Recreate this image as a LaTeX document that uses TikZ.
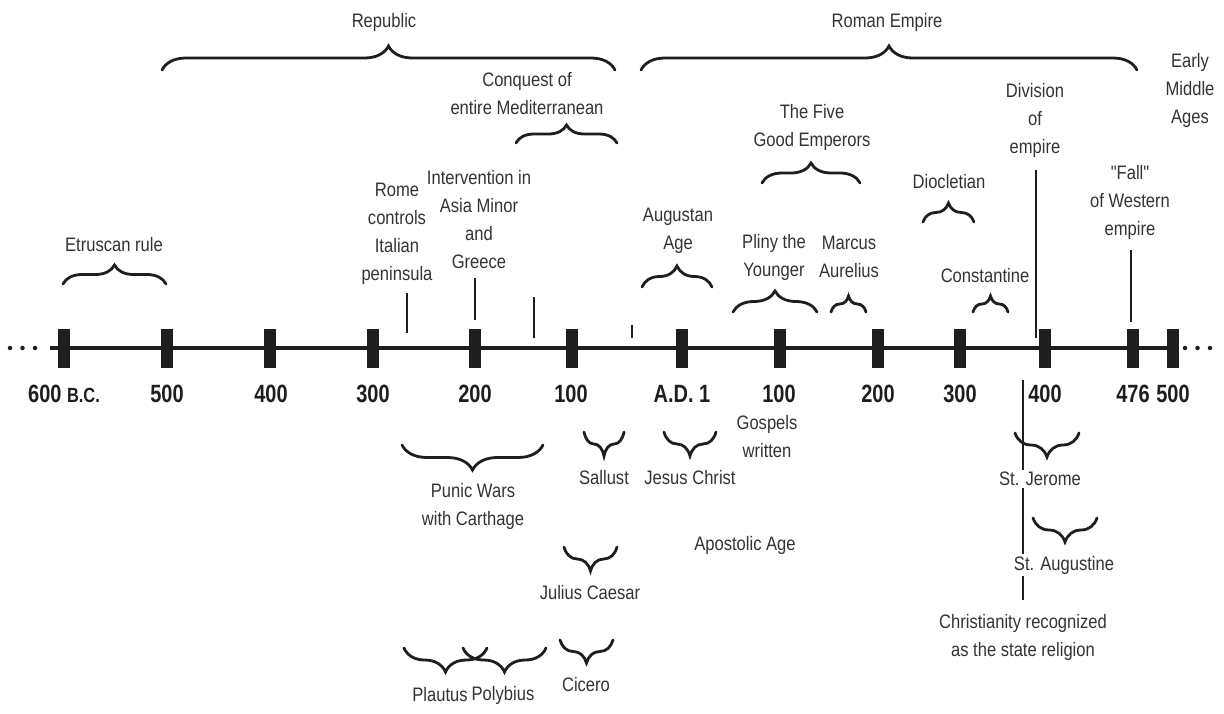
\documentclass[tikz,border=0pt]{standalone}
\usepackage{fontspec}
\setmainfont{Liberation Sans}[FakeStretch=0.85]
\newfontfamily\plainfont{Liberation Sans}[FakeStretch=0.85]
\newfontfamily\axfont{Liberation Sans Bold}[FakeStretch=0.8]
\usetikzlibrary{decorations.pathreplacing}
\definecolor{txt}{HTML}{333333}
\definecolor{ink}{HTML}{1E1E1E}
\tikzset{
  lbl/.style={font=\fontsize{19.5}{28}\selectfont, text=txt, align=center, inner sep=0pt},
  axl/.style={font=\axfont\fontsize{25}{28}\selectfont, text=ink, inner sep=0pt},
  tk/.style={fill=ink, minimum width=12pt, minimum height=39pt, inner sep=0pt, draw=none},
  brc/.style={draw=ink, line width=2.8pt, line cap=round, decorate, decoration={brace, amplitude=#1}},
  pinline/.style={draw=ink, line width=1.5pt},
  dotn/.style={circle, fill=ink, minimum size=4.5pt, inner sep=0pt},
}
\begin{document}
\begin{tikzpicture}[x=1pt, y=-1pt]
\useasboundingbox (0,0) rectangle (1224,713);

% ---- axis ----
\node[dotn] (dl1) at (10,348) {};
\node[dotn] (dl2) at (22.5,348) {};
\node[dotn] (dl3) at (35,348) {};
\node[dotn] (dr1) at (1185,348) {};
\node[dotn] (dr2) at (1197.5,348) {};
\node[dotn] (dr3) at (1210,348) {};
\coordinate (axL) at (50,348);
\coordinate (axR) at (1176,348);
\draw[ink, line width=4pt] (axL) -- (axR);
\foreach \n/\x in {t600/63.5, t500/167, t400/270, t300/373, t200/475, t100/572, tad1/682,
                   a100/780, a200/878, a300/960, a400/1045, a476/1133, a500/1173}
  \node[tk] (\n) at (\x,348) {};

\node[axl] (l600) at (64,394) {600 {\fontsize{20.5}{20}\selectfont B.C.}};
\node[axl] (l500) at (167,394) {500};
\node[axl] (l400) at (271,394) {400};
\node[axl] (l300) at (373,394) {300};
\node[axl] (l200) at (475,394) {200};
\node[axl] (l100) at (571,394) {100};
\node[axl] (lad1) at (682,394) {A.D. 1};
\node[axl] (m100) at (779,394) {100};
\node[axl] (m200) at (878,394) {200};
\node[axl] (m300) at (960,394) {300};
\node[axl] (m400) at (1045,394) {400};
\node[axl] (m476) at (1133,394) {476};
\node[axl] (m500) at (1173,394) {500};

% ---- top labels ----
\node[lbl] (repub) at (384,22) {Republic};
\draw[brc=24pt] (162,70) -- (615,70);
\node[lbl] (roman) at (887,22) {Roman Empire};
\draw[brc=24pt] (641,70) -- (1137,70);
\node[lbl] (ema) at (1190,90) {Early\\Middle\\Ages};

\node[lbl] (conq) at (527,94) {Conquest of\\entire Mediterranean};
\draw[brc=18pt] (516,143) -- (617,143);

\node[lbl] (five) at (812,127) {The Five\\Good Emperors};
\draw[brc=20pt] (762,183) -- (860,183);

\node[lbl] (divi) at (1035,120) {Division\\of\\empire};
\coordinate (diviA) at (1036,170);
\coordinate (diviB) at (1036,338);
\draw[pinline] (diviA) -- (diviB);

\node[lbl, font=\plainfont\fontsize{19.5}{28}\selectfont] (fall) at (1130,202) {"Fall"\\of Western\\empire};
\coordinate (fallA) at (1131,250);
\coordinate (fallB) at (1131,322);
\draw[pinline] (fallA) -- (fallB);

\node[lbl] (diocl) at (949,182) {Diocletian};
\draw[brc=19pt] (923,222) -- (974,222);

\node[lbl] (rome) at (397,234) {Rome\\controls\\Italian\\peninsula};
\coordinate (romeA) at (407,293);
\coordinate (romeB) at (407,333);
\draw[pinline] (romeA) -- (romeB);

\node[lbl] (interv) at (479,220) {Intervention in\\Asia Minor\\and\\Greece};
\coordinate (intA) at (475,278);
\coordinate (intB) at (475,320);
\draw[pinline] (intA) -- (intB);

\coordinate (unA) at (534,297);
\coordinate (unB) at (534,338);
\draw[pinline] (unA) -- (unB);
\coordinate (shA) at (632,325);
\coordinate (shB) at (632,338);
\draw[pinline] (shA) -- (shB);

\node[lbl] (aug) at (678,231) {Augustan\\Age};
\draw[brc=21pt] (642,287) -- (712,287);

\node[lbl] (etr) at (114,245) {Etruscan rule};
\draw[brc=19pt] (63,284) -- (166,284);

\node[lbl] (pliny) at (774,257) {Pliny the\\Younger};
\draw[brc=21pt] (733,312) -- (817,312);
\node[lbl] (marcus) at (849,257) {Marcus\\Aurelius};
\draw[brc=16pt] (831,312) -- (866,312);
\node[lbl] (const) at (985,276) {Constantine};
\draw[brc=16pt] (973,312) -- (1008,312);

% ---- bottom labels ----
\node[lbl] (gosp) at (767,437) {Gospels\\written};

\draw[brc=24pt] (624,432) -- (584,432);
\node[lbl] (sall) at (604,478) {Sallust};
\draw[brc=24pt] (716,432) -- (664,432);
\node[lbl] (jesus) at (690,478) {Jesus Christ};

\draw[brc=25pt] (543,445) -- (402,445);
\node[lbl] (punic) at (473,506) {Punic Wars\\with Carthage};

\node[lbl] (apost) at (745,545) {Apostolic Age};

\draw[brc=24pt] (617,547) -- (564,547);
\node[lbl] (jul) at (590,593) {Julius Caesar};

\draw[brc=23pt] (613,640) -- (560,640);
\node[lbl] (cic) at (586,685) {Cicero};

\draw[brc=24pt] (487,648) -- (404,648);
\draw[brc=24pt] (546,648) -- (463,648);
\node[lbl] (plau) at (440,695) {Plautus};
\node[lbl] (poly) at (503,695) {Polybius};

% Christianity line and labels
\node[lbl] (chr) at (1023,637) {Christianity recognized\\as the state religion};
\coordinate (chrA) at (1023,380);
\coordinate (chrB) at (1023,600);
\draw[pinline] (chrA) -- (chrB);
\draw[brc=24pt] (1079,433) -- (1015,433);
\node[lbl, fill=white, inner sep=2pt] (jer) at (1040,479) {St. Jerome};
\draw[brc=24pt] (1097,518) -- (1033,518);
\node[lbl, fill=white, inner sep=2pt] (augus) at (1064,565) {St. Augustine};
\end{tikzpicture}
\end{document}
